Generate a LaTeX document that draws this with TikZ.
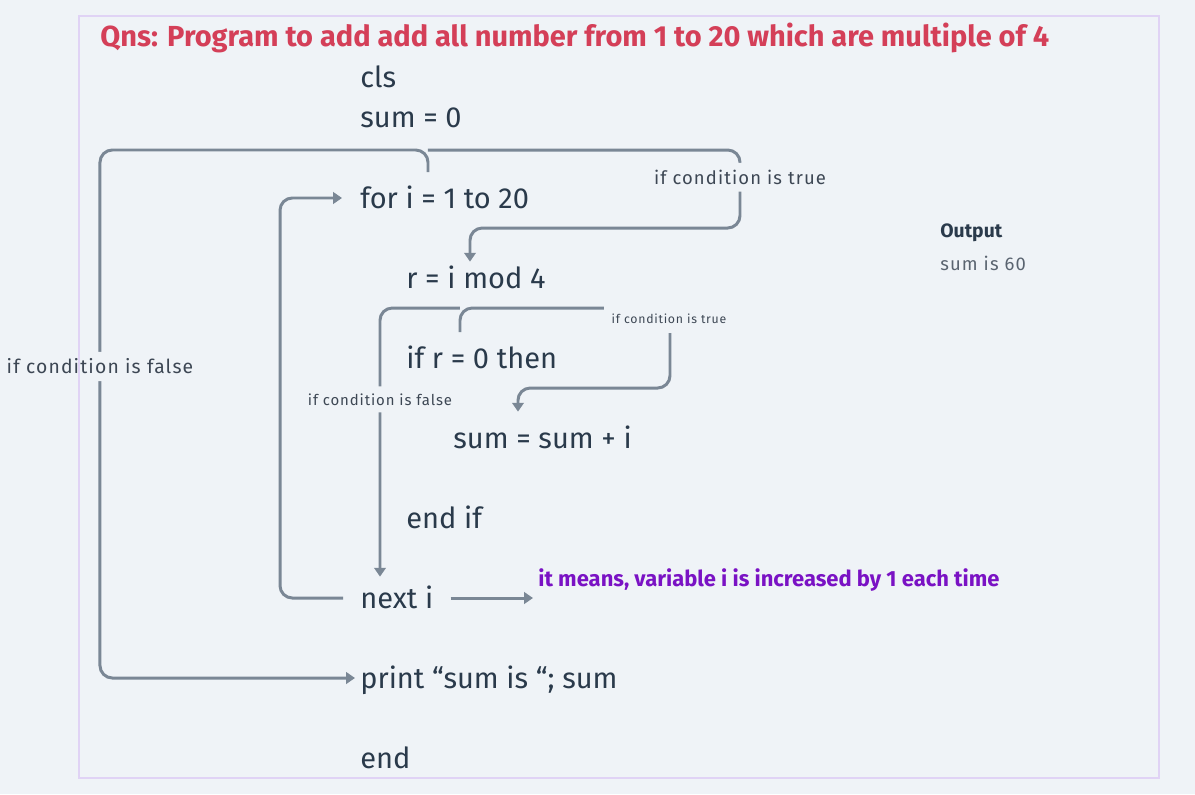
\documentclass[tikz,border=0pt]{standalone}
\usepackage{fontspec}
\setmainfont{Fira Sans}
\newfontfamily\spaced[LetterSpace=6]{Fira Sans}
\usetikzlibrary{arrows.meta}

\definecolor{bg}{HTML}{EFF3F7}
\definecolor{frame}{HTML}{E0D3F5}
\definecolor{wire}{HTML}{7A8795}
\definecolor{codeink}{HTML}{2A3A4B}
\definecolor{lblink}{HTML}{3D4754}
\definecolor{outink}{HTML}{5A6470}
\definecolor{qnsred}{HTML}{D43F58}
\definecolor{notepurple}{HTML}{7A12C4}

\begin{document}
\begin{tikzpicture}[x=0.02cm, y=-0.02cm,
	code/.style={anchor=west, inner sep=0pt, text height=0.4cm, text depth=0pt, text=codeink, font=\fontsize{16.5}{18}\selectfont},
	flow/.style={draw=wire, line width=1.7pt, rounded corners=7pt},
	arr/.style={-{Triangle[length=5pt,width=6.5pt]}},
	lbl/.style={fill=bg, text=lblink, inner xsep=1pt, inner ysep=4pt, font=\spaced\fontsize{10.5}{12}\selectfont}]

	\fill [bg] (0,0) rectangle (1195,794);
	\useasboundingbox (0,0) rectangle (1195,794);

	\node [anchor=west, inner sep=0pt, text=qnsred, font=\bfseries\fontsize{16.5}{18}\selectfont] (qns) at (100,38) {Qns: Program to add add all number from 1 to 20 which are multiple of 4};

	% program lines
	\node [code] (cls) at (360,78) {cls};
	\node [code] (sum0) at (360,118) {sum = 0};
	\node [code] (fori) at (360,198) {for i = 1 to 20};
	\node [code] (rmod) at (406,278) {r = i mod 4};
	\node [code] (ifr) at (406,358) {if r = 0 then};
	\node [code] (sumadd) at (453,438) {sum = sum + i};
	\node [code] (endif) at (406,518) {end if};
	\node [code] (nexti) at (360,598) {next i};
	\node [code] (print) at (360,678) {print “sum is “; sum};
	\node [code] (fin) at (360,758) {end};

	\node [anchor=west, inner sep=0pt, text=codeink, font=\bfseries\fontsize{11}{12}\selectfont] (outhead) at (940,233) {Output};
	\node [anchor=west, inner sep=0pt, text=outink, font=\spaced\fontsize{10.5}{12}\selectfont] (outval) at (940,263) {sum is 60};
	\node [anchor=west, inner sep=0pt, text=notepurple, font=\bfseries\fontsize{12.5}{14}\selectfont] (note) at (538,580) {it means, variable i is increased by 1 each time};

	% for loop
	\coordinate (forout) at ([xshift=1.36cm,yshift=0.52cm]fori.west);
	\draw [flow,arr] (forout) -- ++(0,-22) -- ++(-328,0) |- node [lbl,pos=0.205,font=\spaced\fontsize{11}{12}\selectfont] {if condition is false} ([xshift=-0.1cm]print.west);
	\draw [flow,arr] ([yshift=0.44cm]forout) -- ++(312,0) -- node [lbl,pos=0.35] {if condition is true} ++(0,78) -| ([xshift=1.28cm,yshift=0.12cm]rmod.north west);
	\draw [flow,arr] ([xshift=-0.34cm]nexti.west) -- ++(-63,0) |- ([xshift=-0.36cm]fori.west);

	% if block
	\coordinate (ifout) at ([xshift=1.08cm,yshift=0.52cm]ifr.west);
	\draw [flow,arr] (ifout) -- ++(0,-24) -- ++(210,0) -- ++(0,80) -| ([xshift=1.3cm,yshift=0.32cm]sumadd.north west);
	\draw [flow,arr] ([yshift=0.48cm]ifout) -- ++(-80,0) -- node [lbl,pos=0.34,font=\spaced\fontsize{8.5}{10}\selectfont] {if condition is false} ([xshift=0.4cm,yshift=0.22cm]nexti.north west);
	\node [lbl, inner xsep=4.5pt, inner ysep=5pt, font=\spaced\fontsize{7}{8}\selectfont] (iftrue) at (669,319) {if condition is true};

	\draw [flow,arr,shorten <=0.34cm,shorten >=0.1cm] (nexti.east) -- (nexti.east -| note.west);

	\draw [frame, line width=1.2pt] (79,16) rectangle (1159,778);
\end{tikzpicture}
\end{document}
